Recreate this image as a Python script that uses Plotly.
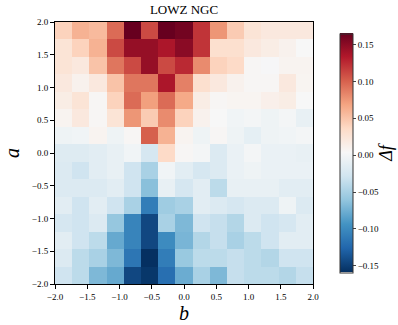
import numpy as np
import plotly.graph_objects as go

# grid of (b, a) cells, 15 x 15 over [-2, 2]
b_edges = np.linspace(-2.0, 2.0, 16)
a_edges = np.linspace(-2.0, 2.0, 16)
b_centers = 0.5 * (b_edges[:-1] + b_edges[1:])
a_centers = 0.5 * (a_edges[:-1] + a_edges[1:])[::-1]  # top row first

# delta f, rows from a=2 (top) down to a=-2 (bottom)
delta_f = [
    [0.04, 0.06, 0.055, 0.095, 0.165, 0.11, 0.165, 0.16, 0.12, 0.075, 0.045, 0.025, 0.02, 0.02, 0.02],
    [0.025, 0.04, 0.06, 0.11, 0.145, 0.145, 0.135, 0.15, 0.12, 0.03, 0.03, 0.02, 0.015, 0.01, 0.003],
    [0.025, 0.02, 0.05, 0.09, 0.11, 0.145, 0.11, 0.125, 0.08, 0.04, 0.035, 0.005, 0.002, 0.008, 0.008],
    [0.02, 0.01, 0.02, 0.05, 0.09, 0.09, 0.135, 0.085, 0.03, 0.02, 0.01, 0.005, 0.005, 0.02, 0.007],
    [0.015, 0.025, 0.005, 0.04, 0.095, 0.07, 0.095, 0.065, 0.015, 0.005, 0.007, 0.007, 0.012, 0.015, 0.003],
    [0.008, 0.02, 0.005, 0.025, 0.075, 0.045, 0.08, 0.04, 0.01, 0.003, -0.003, 0.0, -0.005, 0.0, -0.01],
    [-0.005, -0.003, 0.008, -0.005, 0.005, 0.1, 0.06, 0.008, -0.005, 0.005, -0.005, -0.012, -0.005, -0.003, 0.0],
    [-0.018, -0.018, -0.015, -0.01, -0.003, -0.025, 0.035, 0.005, 0.0, -0.02, -0.008, 0.0, -0.008, -0.008, -0.01],
    [-0.02, -0.03, -0.015, -0.01, -0.03, -0.05, -0.003, -0.015, -0.025, -0.02, -0.008, -0.005, -0.008, -0.008, -0.008],
    [-0.02, -0.02, -0.02, -0.015, -0.03, -0.065, -0.01, -0.025, -0.015, -0.04, -0.01, -0.01, -0.01, -0.015, -0.015],
    [-0.015, -0.03, -0.015, -0.03, -0.05, -0.11, -0.055, -0.05, -0.015, -0.02, -0.025, -0.02, -0.02, -0.005, -0.02],
    [-0.025, -0.03, -0.02, -0.06, -0.105, -0.145, -0.05, -0.07, -0.03, -0.035, -0.045, -0.02, -0.03, -0.025, -0.015],
    [-0.015, -0.03, -0.04, -0.08, -0.105, -0.145, -0.1, -0.072, -0.045, -0.035, -0.05, -0.04, -0.03, -0.015, -0.015],
    [-0.02, -0.04, -0.05, -0.07, -0.115, -0.159, -0.11, -0.058, -0.04, -0.04, -0.035, -0.04, -0.045, -0.03, -0.03],
    [-0.03, -0.04, -0.07, -0.08, -0.145, -0.155, -0.12, -0.078, -0.05, -0.07, -0.035, -0.04, -0.04, -0.045, -0.035],
]

axis_ticks = [-2.0, -1.5, -1.0, -0.5, 0.0, 0.5, 1.0, 1.5, 2.0]
cbar_ticks = [-0.15, -0.10, -0.05, 0.0, 0.05, 0.10, 0.15]

# matplotlib RdBu_r
rdbu = ["#053061", "#2166ac", "#4393c3", "#92c5de", "#d1e5f0", "#f7f7f7",
        "#fddbc7", "#f4a582", "#d6604d", "#b2182b", "#67001f"]
colorscale = [[i / 10, c] for i, c in enumerate(rdbu)]

font = "Liberation Serif, DejaVu Serif, serif"

fig = go.Figure(
    go.Heatmap(
        x=b_centers,
        y=a_centers,
        z=delta_f,
        zmin=-0.159,
        zmax=0.165,
        colorscale=colorscale,
        colorbar=dict(
            x=1.066, xanchor="left", xref="paper",
            y=0.5, yanchor="middle", len=0.99, lenmode="fraction",
            thickness=13, outlinewidth=1, outlinecolor="#333",
            tickvals=cbar_ticks, tickformat=".2f", ticks="outside", ticklen=3,
            tickfont=dict(family=font, size=9, color="black"),
            title=dict(text="<i>Δf</i>", side="right",
                       font=dict(family=font, size=18, color="black")),
        ),
    )
)

axis_common = dict(
    range=[-2, 2], tickvals=axis_ticks, tickformat=".1f",
    ticks="outside", ticklen=4, tickcolor="black",
    showline=True, linecolor="black", linewidth=1, mirror=True,
    showgrid=False, zeroline=False,
    tickfont=dict(family=font, size=9, color="black"),
)

fig.update_xaxes(**axis_common, title=dict(text="<i>b</i>", standoff=4,
                 font=dict(family=font, size=20, color="black")))
fig.update_yaxes(**axis_common, title=dict(text="<i>a</i>", standoff=6,
                 font=dict(family=font, size=20, color="black")))

fig.update_layout(
    width=398, height=325,
    margin=dict(l=55, r=85, t=22, b=41, autoexpand=False),
    plot_bgcolor="white", paper_bgcolor="white",
    title=dict(text="LOWZ NGC", x=0.5, xref="paper", y=1, yref="container",
               yanchor="top", pad=dict(t=5),
               font=dict(family=font, size=13, color="black", weight="normal")),
)

fig.write_html("out.html", config={"displayModeBar": False},
               post_script="document.body.style.margin='0';")
